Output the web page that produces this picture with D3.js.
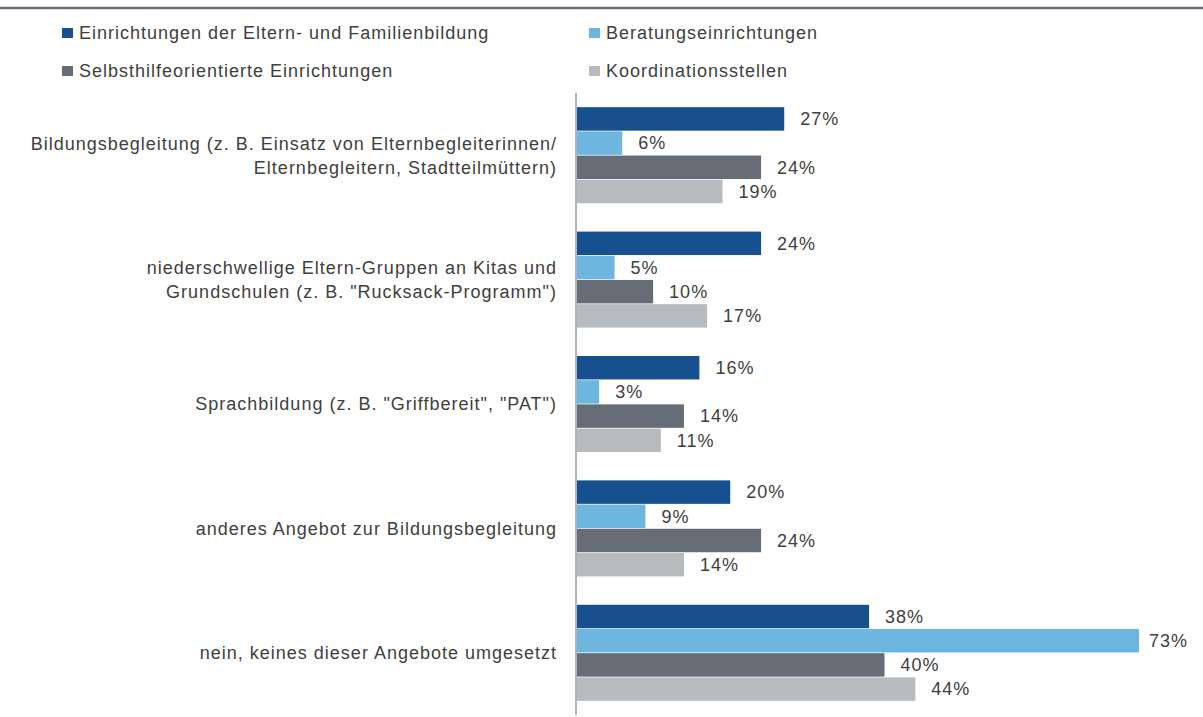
<!DOCTYPE html>
<html>
<head>
<meta charset="utf-8">
<script src="https://cdn.jsdelivr.net/npm/d3@7"></script>
<style>
  html, body { margin: 0; padding: 0; background: #fff; }
  svg { display: block; font-family: "Liberation Sans", Arial, sans-serif; }
  text { letter-spacing: 1px; }
</style>
</head>
<body>
<svg id="chart" width="1203" height="717"></svg>
<script>
const categories = [
  ["Bildungsbegleitung (z. B. Einsatz von Elternbegleiterinnen/", "Elternbegleitern, Stadtteilmüttern)"],
  ["niederschwellige Eltern-Gruppen an Kitas und", "Grundschulen (z. B. \"Rucksack-Programm\")"],
  ["Sprachbildung (z. B. \"Griffbereit\", \"PAT\")"],
  ["anderes Angebot zur Bildungsbegleitung"],
  ["nein, keines dieser Angebote umgesetzt"]
];
const seriesNames = [
  "Einrichtungen der Eltern- und Familienbildung",
  "Beratungseinrichtungen",
  "Selbsthilfeorientierte Einrichtungen",
  "Koordinationsstellen"
];
const elternFamilienbildung = [27, 24, 16, 20, 38];
const beratung = [6, 5, 3, 9, 73];
const selbsthilfe = [24, 10, 14, 24, 40];
const koordination = [19, 17, 11, 14, 44];
const seriesValues = [elternFamilienbildung, beratung, selbsthilfe, koordination];
const colors = ["#17508f", "#6db6e0", "#666d76", "#b7bbbe"];

const svg = d3.select("#chart");
const textColor = "#404040";
const fs = 18;

// top rule
svg.append("line").attr("x1", 0).attr("x2", 1203).attr("y1", 8).attr("y2", 8)
  .attr("stroke", "#6a7079").attr("stroke-width", 2.5);

// legend
const legendPos = [[62, 33], [589, 33], [62, 71], [589, 71]];
seriesNames.forEach((name, i) => {
  const [lx, ly] = legendPos[i];
  svg.append("rect").attr("x", lx).attr("y", ly - 5).attr("width", 11).attr("height", 10).attr("fill", colors[i]);
  svg.append("text").attr("x", lx + 17).attr("y", ly).attr("dy", "0.35em")
    .attr("font-size", fs).attr("fill", textColor).text(name);
});

const idx = d3.range(categories.length);
const y = d3.scaleBand().domain(idx).range([93, 715]).paddingInner(0.228).paddingOuter(0.114);
const ySub = d3.scaleBand().domain(d3.range(4)).range([0, y.bandwidth()]).paddingInner(0.03);
const x = d3.scaleLinear().domain([0, 73]).range([576, 1139]);

// axis line
svg.append("line").attr("x1", 576).attr("x2", 576).attr("y1", 93).attr("y2", 715)
  .attr("stroke", "#b0b4b8").attr("stroke-width", 2);

const groups = svg.selectAll("g.grp").data(idx).join("g").attr("class", "grp")
  .attr("transform", d => `translate(0,${y(d)})`);

groups.each(function(ci) {
  const g = d3.select(this);
  const vals = seriesValues.map(s => s[ci]);
  g.selectAll("rect").data(vals).join("rect")
    .attr("x", x(0) + 1)
    .attr("y", (d, si) => ySub(si))
    .attr("width", d => x(d) - x(0) - 1)
    .attr("height", ySub.bandwidth())
    .attr("fill", (d, si) => colors[si]);
  g.selectAll("text.val").data(vals).join("text").attr("class", "val")
    .attr("x", d => Math.min(x(d) + 16, 1149))
    .attr("y", (d, si) => ySub(si) + ySub.bandwidth() / 2)
    .attr("dy", "0.35em")
    .attr("font-size", fs).attr("fill", textColor)
    .text(d => d + "%");
});

// category labels
idx.forEach(ci => {
  const lines = categories[ci];
  const cy = y(ci) + y.bandwidth() / 2;
  const lh = 24;
  const t = svg.append("text").attr("text-anchor", "end").attr("font-size", fs).attr("fill", textColor);
  lines.forEach((ln, li) => {
    t.append("tspan").attr("x", 557)
      .attr("y", cy + (li - (lines.length - 1) / 2) * lh)
      .attr("dy", "0.35em").text(ln);
  });
});
</script>
</body>
</html>
